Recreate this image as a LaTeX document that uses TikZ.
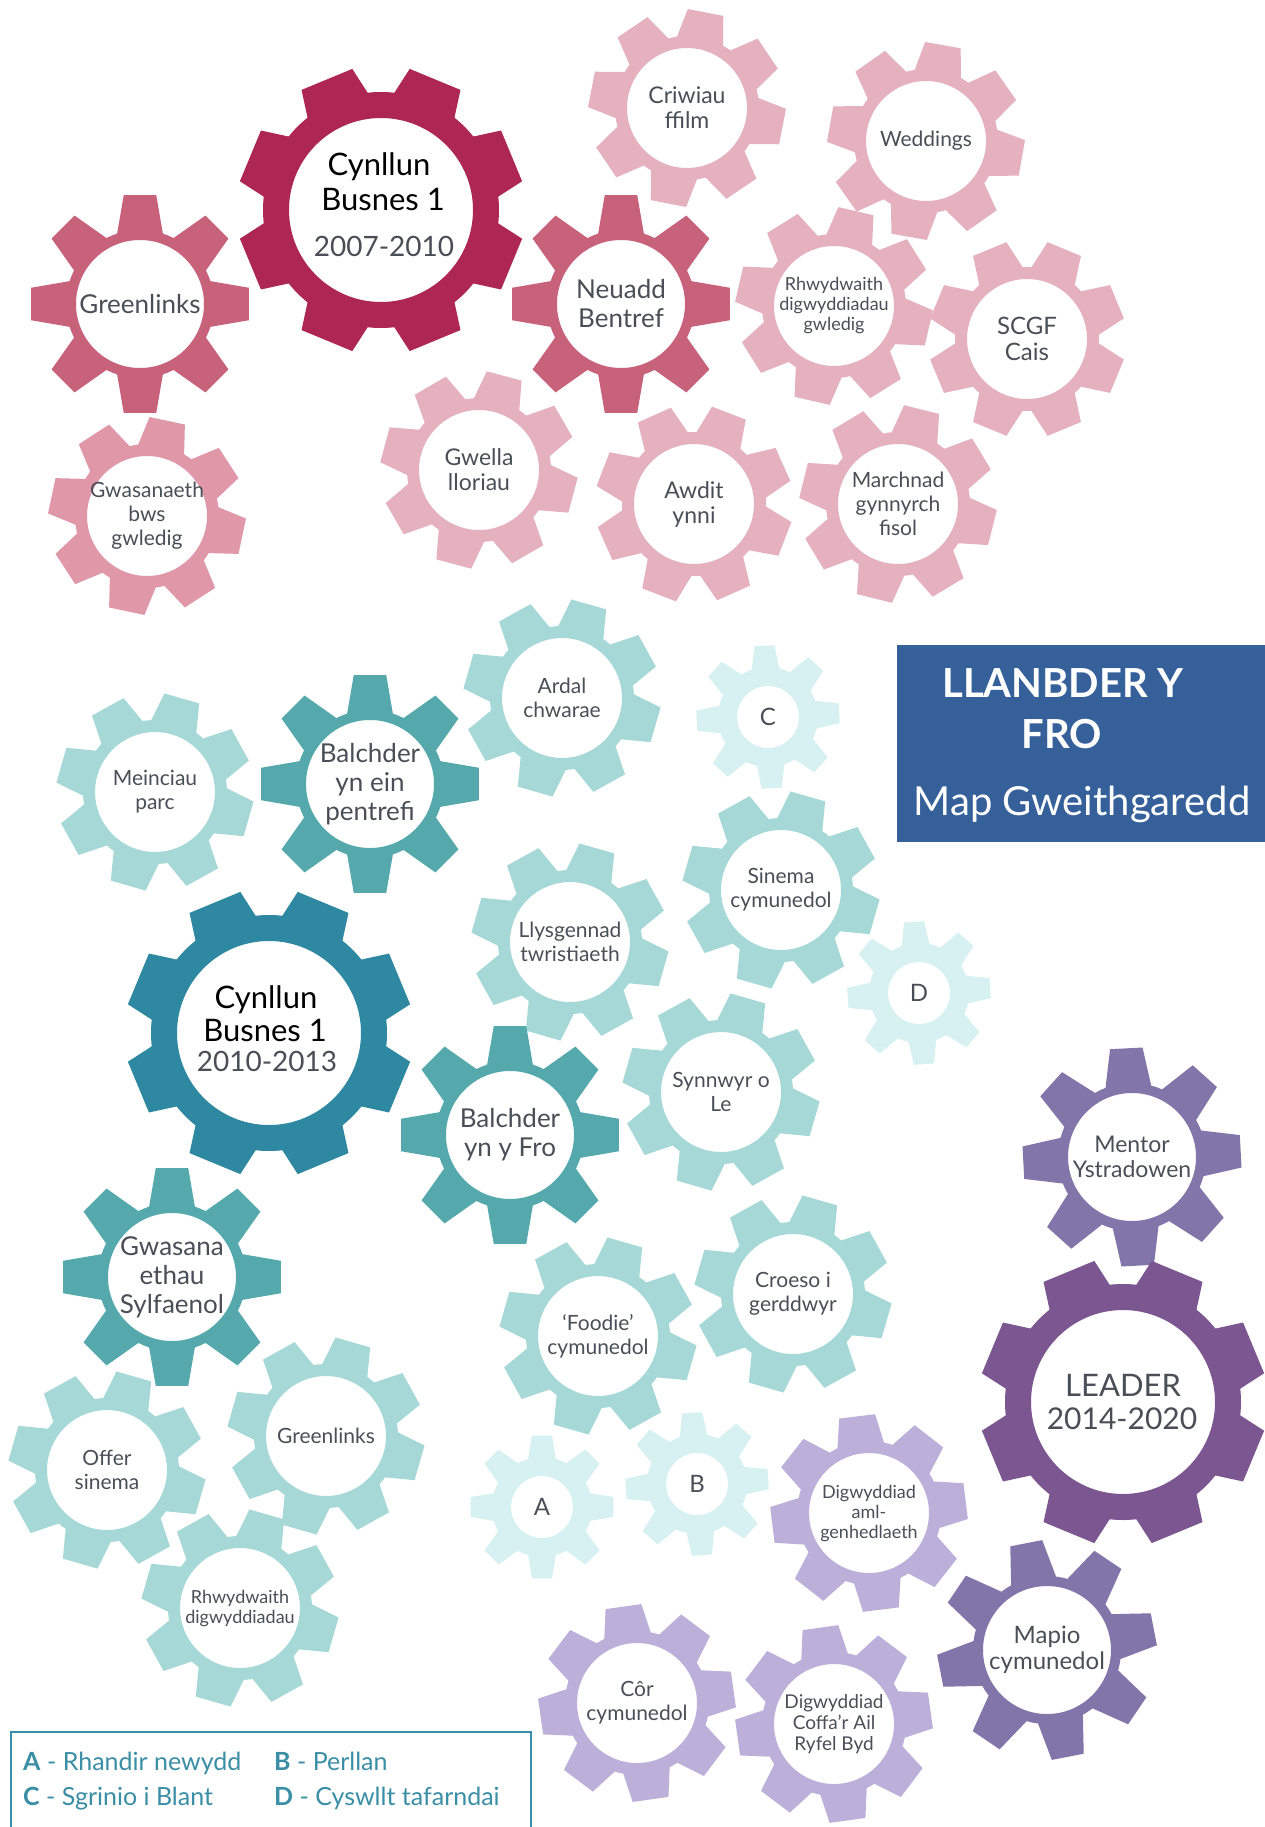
\documentclass[tikz,border=0pt]{standalone}
\usepackage{fontspec}
\setmainfont{Lato}
\usepackage{tikz}

\definecolor{crimson}{HTML}{AE2654}
\definecolor{pinkmid}{HTML}{C8627B}
\definecolor{pinkbus}{HTML}{E098A9}
\definecolor{pinklight}{HTML}{E6B1BF}
\definecolor{tealdark}{HTML}{2F88A1}
\definecolor{tealmid}{HTML}{55A9AD}
\definecolor{teallight}{HTML}{A5D8D7}
\definecolor{tealpale}{HTML}{D7F0F2}
\definecolor{purpdark}{HTML}{7C5690}
\definecolor{purpmid}{HTML}{8275AA}
\definecolor{lavender}{HTML}{BCAFDA}
\definecolor{titleblue}{HTML}{35609A}
\definecolor{keyteal}{HTML}{3A8EA5}
\definecolor{labeltext}{HTML}{4A4F57}

% gear: centre, outer r, root r, hole r, half tip angle, half base angle, turn, colour
\newcommand{\gear}[8]{%
  \begin{scope}[shift={#1}]
    \fill[#8,even odd rule] ({#7-#6}:#3)
      \foreach \k in {0,...,7}{
        -- ({\k*45+#7-#6}:#3) -- ({\k*45+#7-#5}:#2) -- ({\k*45+#7+#5}:#2) -- ({\k*45+#7+#6}:#3)
        arc[start angle={\k*45+#7+#6}, end angle={\k*45+45+#7-#6}, radius=#3]}
      -- cycle (0,0) circle[radius=#4];
  \end{scope}}
\newcommand{\biggear}[3]{\gear{#1}{144}{118}{92}{11}{16}{#2}{#3}}
\newcommand{\midgear}[3]{\gear{#1}{110}{74}{64}{8.5}{18}{#2}{#3}}
\newcommand{\litegear}[3]{\gear{#1}{99}{72}{60}{10.5}{19}{#2}{#3}}
\newcommand{\smallgear}[3]{\gear{#1}{72}{50}{31}{8}{16}{#2}{#3}}

\tikzset{
  lbl/.style={text=labeltext, align=center, inner sep=0pt},
  lblB/.style={lbl, font=\fontsize{26}{29}\selectfont},
  lblM/.style={lbl, font=\fontsize{21}{24}\selectfont},
  lblS/.style={lbl, font=\fontsize{18}{20}\selectfont},
  bigtxt/.style={lbl, anchor=base, font=\fontsize{31}{35}\selectfont},
  yeartxt/.style={lbl, anchor=base, font=\fontsize{28}{32}\selectfont},
  keytxt/.style={text=keyteal, anchor=base west, inner sep=0pt, font=\fontsize{25}{29}\selectfont},
  titletxt/.style={text=white, anchor=base, inner sep=0pt, font=\fontsize{40}{44}\selectfont},
}

\begin{document}
\begin{tikzpicture}[x=1pt,y=-1pt]
    \clip (0,0) rectangle (1265,1827);
    \fill[white] (0,0) rectangle (1265,1827);

    % pink gears
    \litegear{(687,108)}{11}{pinklight}
    \litegear{(926,141)}{10}{pinklight}
    \litegear{(834,306)}{13}{pinklight}
    \litegear{(1027,339)}{22.5}{pinklight}
    \litegear{(479,470)}{15}{pinklight}
    \litegear{(694,504)}{21}{pinklight}
    \litegear{(898,504)}{14}{pinklight}
    \litegear{(147,516)}{12}{pinkbus}
    \midgear{(140,304)}{0}{pinkmid}
    \midgear{(621,304)}{0}{pinkmid}
    \biggear{(381,210)}{22.5}{crimson}

    % teal gears
    \litegear{(562,698)}{16}{teallight}
    \litegear{(155,792)}{16}{teallight}
    \litegear{(570,942)}{16}{teallight}
    \litegear{(781,890)}{16}{teallight}
    \litegear{(721,1092)}{16}{teallight}
    \litegear{(598,1336)}{16}{teallight}
    \litegear{(793,1294)}{16}{teallight}
    \litegear{(107,1470)}{16}{teallight}
    \litegear{(326,1436)}{16}{teallight}
    \litegear{(240,1608)}{16}{teallight}
    \smallgear{(768,717)}{42}{tealpale}
    \smallgear{(919,993)}{41}{tealpale}
    \smallgear{(542,1507)}{0}{tealpale}
    \smallgear{(697,1484)}{41}{tealpale}
    \midgear{(370,784)}{0}{tealmid}
    \midgear{(510,1135)}{0}{tealmid}
    \midgear{(172,1277)}{0}{tealmid}
    \biggear{(269,1033)}{22.5}{tealdark}

    % purple gears
    \litegear{(869,1513)}{38}{lavender}
    \litegear{(637,1703)}{37}{lavender}
    \litegear{(834,1724)}{37}{lavender}
    \midgear{(1132,1157)}{42}{purpmid}
    \midgear{(1047,1650)}{34}{purpmid}
    \biggear{(1123,1402)}{22.5}{purpdark}

    % labels, pink
    \node[bigtxt, text=black] (cbA1) at (379,176) {Cynllun};
    \node[bigtxt, text=black] (cbA2) at (383,211) {Busnes 1};
    \node[yeartxt] (cbA3) at (384,257) {2007-2010};
    \node[lblB] (greenA) at (140,304) {Greenlinks};
    \node[lblB] (neuadd) at (621,304) {Neuadd\\Bentref};
    \node[lblM] (bws) at (147,516) {Gwasanaeth\\bws\\gwledig};
    \node[lblM, font=\fontsize{23}{25}\selectfont] (gwella) at (479,470) {Gwella\\lloriau};
    \node[lblM, font=\fontsize{23}{25}\selectfont] (criwiau) at (687,108) {Criwiau\\ffilm};
    \node[lblM] (weddings) at (926,141) {Weddings};
    \node[lblS] (rhwydA) at (834,306) {Rhwydwaith\\digwyddiadau\\gwledig};
    \node[lblM, font=\fontsize{24}{26}\selectfont] (scgf) at (1027,339) {SCGF\\Cais};
    \node[lblM, font=\fontsize{23}{25}\selectfont] (awdit) at (694,504) {Awdit\\ynni};
    \node[lblM] (marchnad) at (898,504) {Marchnad\\gynnyrch\\fisol};

    % labels, teal
    \node[lblM] (ardal) at (562,698) {Ardal\\chwarae};
    \node[lblM, font=\fontsize{24}{28}\selectfont] (keyC) at (768,717) {C};
    \node[lblM] (meinciau) at (155,792) {Meinciau\\parc};
    \node[lblB] (balchA) at (370,784) {Balchder\\yn ein\\pentrefi};
    \node[lblM] (llysg) at (570,942) {Llysgennad\\twristiaeth};
    \node[lblM] (sinema) at (781,890) {Sinema\\cymunedol};
    \node[lblM, font=\fontsize{24}{28}\selectfont] (keyD) at (919,993) {D};
    \node[bigtxt, text=black] (cbB1) at (266,1008) {Cynllun};
    \node[bigtxt, text=black] (cbB2) at (265,1041) {Busnes 1};
    \node[yeartxt] (cbB3) at (267,1071) {2010-2013};
    \node[lblB] (balchB) at (510,1135) {Balchder\\yn y Fro};
    \node[lblM] (synnwyr) at (721,1092) {Synnwyr o\\Le};
    \node[lblB] (sylfaenol) at (172,1277) {Gwasana\\ethau\\Sylfaenol};
    \node[lblM] (foodie) at (598,1336) {‘Foodie’\\cymunedol};
    \node[lblM] (croeso) at (793,1294) {Croeso i\\gerddwyr};
    \node[lblM] (offer) at (107,1470) {Offer\\sinema};
    \node[lblM] (greenB) at (326,1436) {Greenlinks};
    \node[lblS] (rhwydB) at (240,1608) {Rhwydwaith\\digwyddiadau};
    \node[lblM, font=\fontsize{24}{28}\selectfont] (keyA) at (542,1507) {A};
    \node[lblM, font=\fontsize{24}{28}\selectfont] (keyB) at (697,1484) {B};

    % labels, purple
    \node[lblM, font=\fontsize{23}{25}\selectfont] (mentor) at (1132,1157) {Mentor\\Ystradowen};
    \node[bigtxt] (leader1) at (1123,1396) {LEADER};
    \node[yeartxt, font=\fontsize{30}{34}\selectfont] (leader2) at (1122,1429) {2014-2020};
    \node[lblS] (aml) at (869,1513) {Digwyddiad\\aml-\\genhedlaeth};
    \node[lblM, font=\fontsize{24}{26}\selectfont] (mapio) at (1047,1650) {Mapio\\cymunedol};
    \node[lblM] (cor) at (637,1703) {Côr\\cymunedol};
    \node[lblM, font=\fontsize{19}{21}\selectfont] (coffa) at (834,1724) {Digwyddiad\\Coffa’r Ail\\Ryfel Byd};

    % title box
    \fill[titleblue] (897,645) rectangle (1265,842);
    \node[titletxt, font=\bfseries\fontsize{40}{44}\selectfont] (title1) at (1063,697) {LLANBDER Y};
    \node[titletxt, font=\bfseries\fontsize{40}{44}\selectfont] (title2) at (1062,748) {FRO};
    \node[titletxt] (title3) at (1082,815) {Map Gweithgaredd};

    % key
    \draw[keyteal, line width=2pt] (11,1827) -- (11,1732) -- (531,1732) -- (531,1827);
    \node[keytxt] (legA) at (23,1770) {\textbf{A} - Rhandir newydd};
    \node[keytxt] (legB) at (274,1770) {\textbf{B} - Perllan};
    \node[keytxt] (legC) at (23,1805) {\textbf{C} - Sgrinio i Blant};
    \node[keytxt] (legD) at (274,1805) {\textbf{D} - Cyswllt tafarndai};
\end{tikzpicture}
\end{document}
